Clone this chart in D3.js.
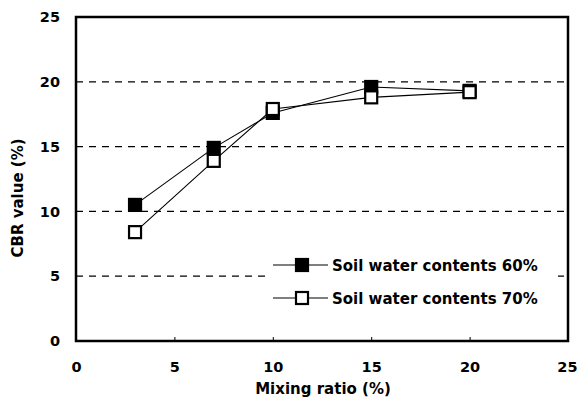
<!DOCTYPE html>
<html><head><meta charset="utf-8">
<script src="https://cdn.jsdelivr.net/npm/d3@7"></script>
<style>body{margin:0;background:#fff}svg{display:block}text{font-family:"DejaVu Sans",sans-serif;font-weight:bold;fill:#000}</style>
</head><body><svg id="c" width="577" height="403"></svg>
<script>
const mixing = [3, 7, 10, 15, 20];
const cbr60 = [10.5, 14.9, 17.6, 19.6, 19.3];
const cbr70 = [8.4, 13.9, 17.9, 18.8, 19.2];
const seriesNames = ["Soil water contents 60%", "Soil water contents 70%"];
const xTicks = [0, 5, 10, 15, 20, 25];
const yTicks = [0, 5, 10, 15, 20, 25];
const gridVals = [5, 10, 15, 20];

const svg = d3.select("#c");
const L = 76, R = 568, T = 17, B = 341;
const x = d3.scaleLinear().domain([0, 25]).range([L, R]);
const y = d3.scaleLinear().domain([0, 25]).range([B, T]);
const FONT = "DejaVu Sans, sans-serif";

// grid
svg.append("g").selectAll("line").data(gridVals).join("line")
  .attr("x1", L).attr("x2", R).attr("y1", d => y(d)).attr("y2", d => y(d))
  .attr("stroke", "#000").attr("stroke-width", 1.3).attr("stroke-dasharray", "7,6");

// axes
const xa = svg.append("g").attr("transform", `translate(0,${B})`)
  .call(d3.axisBottom(x).tickValues(xTicks).tickSize(-4).tickPadding(21).tickFormat(d3.format("d")));
const ya = svg.append("g").attr("transform", `translate(${L},0)`)
  .call(d3.axisLeft(y).tickValues(yTicks).tickSize(0).tickPadding(16).tickFormat(d3.format("d")));
[xa, ya].forEach(g => {
  g.select(".domain").remove();
  g.selectAll("text").style("font-size", "14.5px").style("font-weight", "bold").style("font-family", FONT);
  g.selectAll("line").attr("stroke", "#000");
});
// keep the last x label inside the window
xa.selectAll("text").filter(d => d === 25).attr("text-anchor", "end").attr("dx", "9px");

// frame
svg.append("rect").attr("x", L).attr("y", T).attr("width", R - L).attr("height", B - T)
  .attr("fill", "none").attr("stroke", "#000").attr("stroke-width", 2.5);

// legend background (covers gridline)
svg.append("rect").attr("x", 268).attr("y", 250).attr("width", 290).attr("height", 62).attr("fill", "#fff");

const line = d3.line().x((d, i) => x(mixing[i])).y(d => y(d));
const series = [cbr60, cbr70];
const fills = ["#000", "#fff"];
series.forEach(s => {
  svg.append("path").datum(s).attr("d", line).attr("fill", "none").attr("stroke", "#000").attr("stroke-width", 1.1);
});
series.forEach((s, k) => {
  svg.append("g").selectAll("rect").data(s).join("rect")
    .attr("x", (d, i) => x(mixing[i]) - 6).attr("y", d => y(d) - 6)
    .attr("width", 12).attr("height", 12)
    .attr("fill", fills[k]).attr("stroke", "#000").attr("stroke-width", 2.2);
});

// legend
const lg = svg.append("g");
const ly = [265, 298];
seriesNames.forEach((n, k) => {
  lg.append("line").attr("x1", 273).attr("x2", 328).attr("y1", ly[k]).attr("y2", ly[k]).attr("stroke", "#000").attr("stroke-width", 1.1);
  lg.append("rect").attr("x", 296).attr("y", ly[k] - 6).attr("width", 12).attr("height", 12)
    .attr("fill", fills[k]).attr("stroke", "#000").attr("stroke-width", 2.2);
  lg.append("text").attr("x", 332).attr("y", ly[k] + 6).style("font-size", "15px").text(n);
});

// axis titles
svg.append("text").attr("x", 323).attr("y", 394).attr("text-anchor", "middle").style("font-size", "15px").text("Mixing ratio (%)");
svg.append("text").attr("transform", `translate(23,198) rotate(-90)`).attr("text-anchor", "middle").style("font-size", "15px").text("CBR value (%)");
</script></body></html>
